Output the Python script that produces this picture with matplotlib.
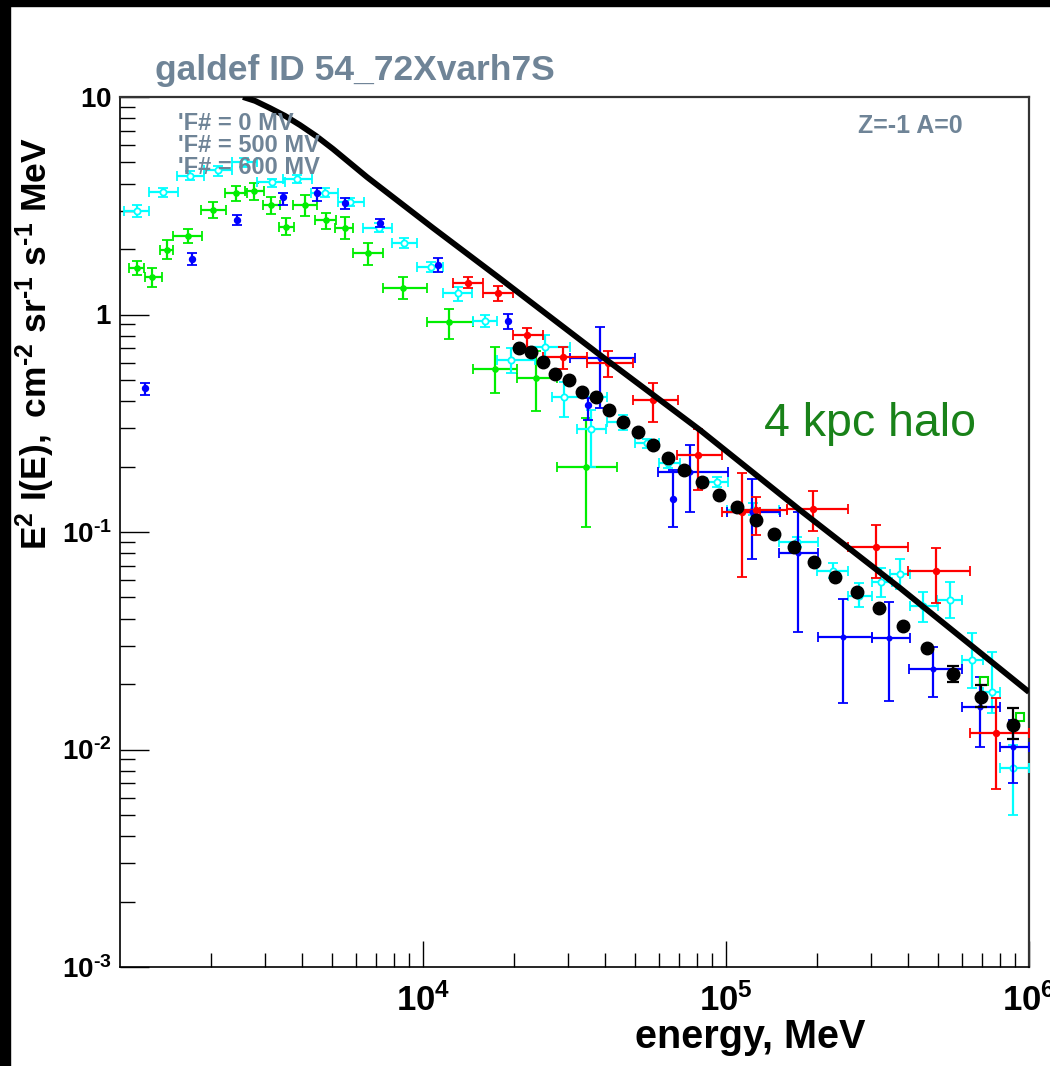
import numpy as np
import matplotlib
matplotlib.use("Agg")
import matplotlib.pyplot as plt
from matplotlib.patches import Rectangle
from matplotlib.ticker import FixedLocator, FuncFormatter, NullFormatter

plt.rcParams['font.family'] = ['Liberation Sans', 'DejaVu Sans']
plt.rcParams['mathtext.fontset'] = 'custom'
plt.rcParams['mathtext.rm'] = 'Liberation Sans:bold'
plt.rcParams['mathtext.bf'] = 'Liberation Sans:bold'
plt.rcParams['mathtext.it'] = 'Liberation Sans:bold'
plt.rcParams['mathtext.default'] = 'bf'

# ---------------- data (log10 of energy in MeV, log10 of E^2 I(E)) ----------------
# model curve
model_logE = [3.406, 3.446, 3.495, 3.545, 3.594, 3.647, 3.703, 3.815, 4.033, 4.248,
              4.584, 4.914, 5.244, 5.574, 6.000]
model_logF = [1.000, 0.982, 0.949, 0.913, 0.871, 0.821, 0.761, 0.632, 0.398, 0.172,
              -0.186, -0.531, -0.899, -1.257, -1.736]

# black points
black_logE = [4.317, 4.356, 4.396, 4.436, 4.482, 4.525, 4.571, 4.614, 4.660, 4.710,
              4.759, 4.809, 4.861, 4.921, 4.977, 5.036, 5.099, 5.158, 5.224, 5.290,
              5.360, 5.432, 5.505, 5.584, 5.663, 5.749, 5.842, 5.947]
black_logF = [-0.154, -0.172, -0.218, -0.274, -0.301, -0.356, -0.379, -0.439, -0.494, -0.540,
              -0.600, -0.660, -0.715, -0.770, -0.830, -0.885, -0.945, -1.009, -1.069, -1.138,
              -1.207, -1.276, -1.349, -1.432, -1.533, -1.653, -1.759, -1.887]
blackerr_logE = [5.749, 5.842, 5.947]
blackerr_logF = [-1.653, -1.759, -1.887]
blackerr_top = [-1.616, -1.703, -1.809]
blackerr_bot = [-1.690, -1.805, -1.952]

# green
green_logE = [3.056, 3.106, 3.155, 3.224, 3.307, 3.383, 3.442, 3.498, 3.548, 3.611,
              3.680, 3.743, 3.818, 3.934, 4.086, 4.238, 4.373, 4.538]
green_lo = [3.030, 3.083, 3.132, 3.175, 3.267, 3.347, 3.413, 3.472, 3.525, 3.571,
            3.644, 3.710, 3.769, 3.868, 4.013, 4.165, 4.310, 4.442]
green_hi = [3.079, 3.139, 3.175, 3.271, 3.350, 3.419, 3.475, 3.528, 3.574, 3.650,
            3.713, 3.769, 3.868, 4.013, 4.165, 4.310, 4.442, 4.640]
green_logF = [0.214, 0.172, 0.297, 0.361, 0.480, 0.559, 0.568, 0.503, 0.402, 0.503,
              0.434, 0.398, 0.283, 0.122, -0.034, -0.251, -0.292, -0.701]
green_top = [0.246, 0.214, 0.343, 0.393, 0.517, 0.591, 0.605, 0.540, 0.444, 0.549,
             0.467, 0.448, 0.329, 0.172, 0.025, -0.149, -0.168, -0.476]
green_bot = [0.182, 0.126, 0.255, 0.329, 0.444, 0.522, 0.526, 0.462, 0.366, 0.453,
             0.393, 0.347, 0.228, 0.071, -0.113, -0.361, -0.444, -0.977]

# green open squares
gsq_logE = [5.851, 5.970]
gsq_logF = [-1.685, -1.851]

# cyan
cyan_logE = [3.056, 3.142, 3.231, 3.323, 3.409, 3.502, 3.584, 3.677, 3.759, 3.855,
             3.937, 4.026, 4.116, 4.205, 4.290, 4.403, 4.465, 4.554, 4.660, 4.739,
             4.809, 4.970, 5.089, 5.234, 5.353, 5.439, 5.512, 5.574, 5.650, 5.739,
             5.812, 5.878, 5.947]
cyan_lo = [3.013, 3.096, 3.188, 3.277, 3.370, 3.452, 3.538, 3.630, 3.719, 3.802,
           3.898, 3.980, 4.066, 4.165, 4.244, 4.310, 4.426, 4.508, 4.607, 4.700,
           4.779, 4.937, 5.003, 5.175, 5.300, 5.403, 5.482, 5.541, 5.607, 5.696,
           5.779, 5.848, 5.904]
cyan_hi = [3.096, 3.191, 3.277, 3.370, 3.452, 3.545, 3.634, 3.719, 3.805, 3.898,
           3.980, 4.066, 4.162, 4.244, 4.370, 4.485, 4.607, 4.604, 4.677, 4.779,
           4.848, 5.007, 5.175, 5.304, 5.403, 5.482, 5.548, 5.607, 5.700, 5.779,
           5.848, 5.904, 6.000]
cyan_logF = [0.476, 0.563, 0.637, 0.664, 0.701, 0.609, 0.623, 0.559, 0.517, 0.398,
             0.329, 0.218, 0.099, -0.030, -0.209, -0.149, -0.379, -0.526, -0.494, -0.591,
             -0.683, -0.770, -0.899, -1.046, -1.179, -1.294, -1.230, -1.193, -1.340, -1.313,
             -1.589, -1.736, -2.085]
cyan_top = [0.503, 0.582, 0.660, 0.683, 0.720, 0.623, 0.641, 0.582, 0.536, 0.421,
            0.352, 0.241, 0.126, -0.002, -0.154, -0.094, -0.310, -0.439, -0.462, -0.572,
            -0.655, -0.747, -0.867, -1.023, -1.143, -1.234, -1.166, -1.124, -1.276, -1.230,
            -1.464, -1.552, -1.979]
cyan_bot = [0.448, 0.540, 0.618, 0.637, 0.678, 0.586, 0.605, 0.540, 0.499, 0.379,
            0.306, 0.195, 0.062, -0.057, -0.269, -0.209, -0.471, -0.701, -0.531, -0.614,
            -0.706, -0.793, -0.922, -1.069, -1.212, -1.345, -1.299, -1.262, -1.414, -1.395,
            -1.717, -1.832, -2.301]

# blue, points with only vertical errors
blue1_logE = [3.083, 3.238, 3.386, 3.538, 3.650, 3.743, 3.858, 4.050, 4.281, 4.545, 4.825]
blue1_logF = [-0.338, 0.255, 0.434, 0.540, 0.559, 0.513, 0.421, 0.228, -0.030, -0.416, -0.848]
blue1_top = [-0.315, 0.283, 0.457, 0.559, 0.582, 0.536, 0.439, 0.260, 0.002, -0.384, -0.715]
blue1_bot = [-0.370, 0.228, 0.412, 0.503, 0.522, 0.485, 0.402, 0.195, -0.067, -0.485, -0.977]

# blue, points with both errors
blue2_logE = [4.584, 4.881, 5.086, 5.238, 5.386, 5.538, 5.683, 5.838, 5.947]
blue2_lo = [4.485, 4.776, 5.003, 5.175, 5.304, 5.482, 5.604, 5.779, 5.904]
blue2_hi = [4.700, 5.007, 5.178, 5.304, 5.482, 5.607, 5.779, 5.904, 6.000]
blue2_logF = [-0.200, -0.724, -0.908, -1.097, -1.483, -1.487, -1.630, -1.805, -1.989]
blue2_top = [-0.057, -0.600, -0.756, -0.908, -1.308, -1.322, -1.529, -1.667, -1.864]
blue2_bot = [-0.430, -0.908, -1.124, -1.460, -1.786, -1.777, -1.759, -1.989, -2.154]

# red
red_logE = [4.149, 4.248, 4.343, 4.462, 4.611, 4.759, 4.908, 5.053, 5.099, 5.287, 5.495, 5.693, 5.891]
red_lo = [4.099, 4.198, 4.297, 4.396, 4.541, 4.693, 4.838, 4.987, 5.046, 5.201, 5.403, 5.601, 5.805]
red_hi = [4.198, 4.297, 4.396, 4.541, 4.693, 4.842, 4.987, 5.112, 5.201, 5.403, 5.601, 5.805, 6.000]
red_logF = [0.145, 0.099, -0.094, -0.195, -0.223, -0.393, -0.646, -0.908, -0.899, -0.894, -1.069, -1.179, -1.924]
red_top = [0.172, 0.131, -0.062, -0.149, -0.168, -0.315, -0.526, -0.729, -0.839, -0.811, -0.968, -1.074, -1.763]
red_bot = [0.122, 0.062, -0.149, -0.251, -0.287, -0.494, -0.807, -1.207, -1.014, -0.995, -1.212, -1.326, -2.182]

legend_lines = ["'F# = 0 MV", "'F# = 500 MV", "'F# = 600 MV"]
title_text = "galdef ID 54_72Xvarh7S"
za_text = "Z=-1 A=0"
halo_text = "4 kpc halo"
x_ticks = [1e4, 1e5, 1e6]
y_ticks = [1e-3, 1e-2, 1e-1, 1, 10]

HY = '\u2010'  # short hyphen as used in the original labels

# ---------------- figure ----------------
W, H = 1050, 1066
fig = plt.figure(figsize=(W / 100, H / 100), dpi=100)
fig.patch.set_facecolor('white')


def fx(px):
    return px / W


def fy(py):
    return 1 - py / H


ax = fig.add_axes([fx(120), fy(967), fx(1029) - fx(120), fy(97) - fy(967)])
ax.set_xscale('log')
ax.set_yscale('log')
ax.set_xlim(1e3, 1e6)
ax.set_ylim(1e-3, 10)


def p10(a):
    return 10 ** np.asarray(a, dtype=float)


def eb(cx, lo, hi, cy, top, bot, color, marker, ms, mfc, z):
    X = p10(cx)
    Y = p10(cy)
    xerr = None
    if lo is not None:
        xerr = [X - p10(lo), p10(hi) - X]
    yerr = [Y - p10(bot), p10(top) - Y]
    ax.errorbar(X, Y, xerr=xerr, yerr=yerr, fmt=marker, color=color, ms=ms,
                mfc=mfc, mec=color, mew=1.3, elinewidth=1.6, capsize=3.8,
                capthick=1.6, zorder=z, clip_on=True)


eb(green_logE, green_lo, green_hi, green_logF, green_top, green_bot, '#00ee00', 'o', 3.5, '#00ee00', 3)
eb(cyan_logE, cyan_lo, cyan_hi, cyan_logF, cyan_top, cyan_bot, '#00ffff', 'o', 4.5, 'white', 3)
eb(blue1_logE, None, None, blue1_logF, blue1_top, blue1_bot, '#0000ff', 'o', 4, '#0000ff', 4)
eb(blue2_logE, blue2_lo, blue2_hi, blue2_logF, blue2_top, blue2_bot, '#0000ff', 'o', 3, '#0000ff', 4)
eb(red_logE, red_lo, red_hi, red_logF, red_top, red_bot, '#ff0000', 'o', 4, '#ff0000', 4)

ax.plot(p10(gsq_logE), p10(gsq_logF), 's', ms=6, mfc='white', mec='#00dd00', mew=1.5, zorder=5)

# black dots
ax.plot(p10(black_logE), p10(black_logF), 'o', color='black', ms=9, zorder=6)
BE = p10(blackerr_logE)
BF = p10(blackerr_logF)
ax.errorbar(BE, BF, yerr=[BF - p10(blackerr_bot), p10(blackerr_top) - BF], fmt='none',
            ecolor='black', elinewidth=1.6, capsize=4, capthick=1.6, zorder=6)

# model line
ax.plot(p10(model_logE), p10(model_logF), color='black', lw=4.2, zorder=7,
        solid_capstyle='butt', solid_joinstyle='round')

# ---------------- axes styling ----------------
for s in ['top', 'right']:
    ax.spines[s].set_color('#333333')
    ax.spines[s].set_linewidth(1.6)
for s in ['left', 'bottom']:
    ax.spines[s].set_color('black')
    ax.spines[s].set_linewidth(1.2)

ax.xaxis.set_major_locator(FixedLocator(x_ticks))
ax.yaxis.set_major_locator(FixedLocator(y_ticks))
minx = [m * 10 ** d for d in range(3, 6) for m in range(2, 10)]
miny = [m * 10 ** d for d in range(-3, 1) for m in range(2, 10)]
ax.xaxis.set_minor_locator(FixedLocator(minx))
ax.yaxis.set_minor_locator(FixedLocator(miny))
ax.xaxis.set_minor_formatter(NullFormatter())
ax.yaxis.set_minor_formatter(NullFormatter())


def xfmt(v, pos):
    e = int(round(np.log10(v)))
    return r'$\mathbf{10^{%d}}$' % e


def yfmt(v, pos):
    e = int(round(np.log10(v)))
    if e == 0:
        return r'$\mathbf{1}$'
    if e == 1:
        return r'$\mathbf{10}$'
    return r'$\mathbf{10^{%s%d}}$' % (HY, -e)


ax.xaxis.set_major_formatter(FuncFormatter(xfmt))
ax.yaxis.set_major_formatter(FuncFormatter(yfmt))
ax.tick_params(axis='both', which='both', direction='in', top=False, right=False, color='black')
ax.tick_params(axis='x', which='major', length=19, width=1.0, labelsize=25, pad=12)
ax.tick_params(axis='x', which='minor', length=10, width=1.0)
ax.tick_params(axis='y', which='major', length=21, width=1.0, labelsize=20, pad=6)
ax.tick_params(axis='y', which='minor', length=11, width=1.0)

# ---------------- texts ----------------
gray = '#6f8497'
fig.text(fx(155), fy(80), title_text, color=gray, fontsize=25.5, fontweight='bold',
         ha='left', va='baseline')
for i, t in enumerate(legend_lines):
    fig.text(fx(178), fy(130 + 22 * i), t, color=gray, fontsize=17, fontweight='bold',
             ha='left', va='baseline', zorder=2)
fig.text(fx(858), fy(133), za_text, color=gray, fontsize=18, fontweight='bold',
         ha='left', va='baseline')
fig.text(fx(870), fy(424), halo_text, color='#198219', fontsize=33.5, ha='center', va='center')

ylab = r'$\mathbf{E^{2}\ I(E),\ cm^{%s2}\ sr^{%s1}\ s^{%s1}\ MeV}$' % (HY, HY, HY)
fig.text(fx(35), fy(344), ylab, rotation=90, ha='center', va='center', fontsize=25.5,
         color='black')
fig.text(fx(750), fy(1048), 'energy, MeV', fontsize=28.5, fontweight='bold',
         ha='center', va='baseline', color='black')

# black frame strips of the screenshot
fig.patches.append(Rectangle((0, fy(6)), 1, 1 - fy(6), transform=fig.transFigure,
                             color='black', zorder=10))
fig.patches.append(Rectangle((0, 0), fx(10), 1, transform=fig.transFigure,
                             color='black', zorder=10))

fig.savefig('out.png', dpi=100, facecolor='white')
